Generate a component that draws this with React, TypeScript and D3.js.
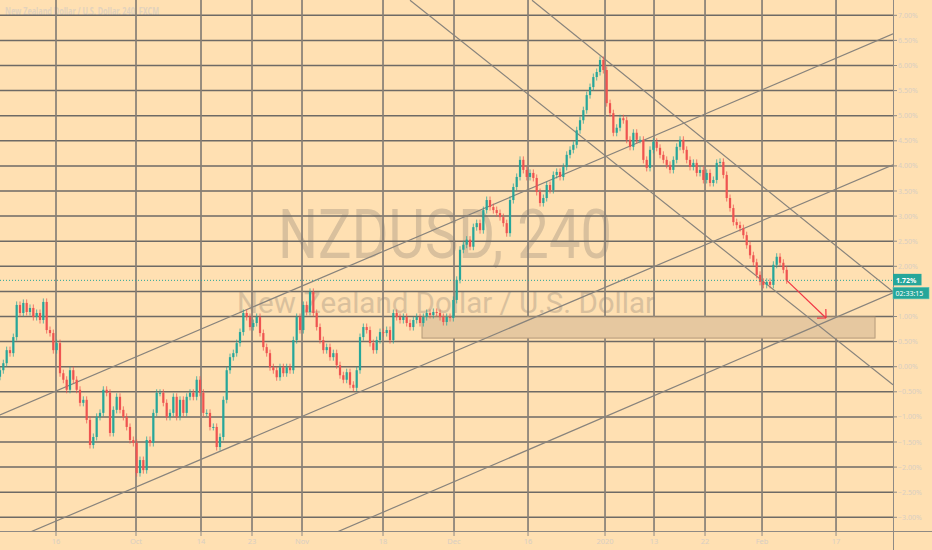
import React from "react";
import * as d3 from "d3";

const W = 932;
const H = 550;
const PLOT_W = 893;
const PLOT_H = 532;

// 4H NZDUSD closes, expressed as % change
const closes = [
  -0.07, 0.07, 0.33, 0.27, 0.59, 1.23, 1.07, 1.27, 1.09, 1.17,
  0.99, 1.07, 0.93, 1.29, 0.73, 0.67, 0.33, 0.47, -0.13, -0.26,
  -0.46, -0.07, -0.26, -0.46, -0.72, -0.66, -1.06, -1.56, -1.4, -1.0,
  -0.92, -0.46, -0.52, -1.32, -0.86, -0.6, -0.86, -1.0, -1.2, -1.46,
  -1.52, -2.12, -1.86, -2.06, -1.46, -1.52, -0.92, -0.52, -0.52, -0.72,
  -1.0, -0.92, -0.6, -1.0, -0.66, -0.92, -0.6, -0.52, -0.6, -0.26,
  -0.52, -0.92, -0.92, -1.2, -1.2, -1.6, -1.4, -0.66, -0.07, 0.19,
  0.27, 0.47, 0.69, 1.07, 0.99, 0.79, 0.87, 0.99, 0.67, 0.39,
  0.27, -0.01, -0.07, -0.21, -0.01, -0.13, -0.01, -0.07, 0.53, 0.99,
  0.73, 1.23, 1.09, 1.49, 1.07, 0.79, 0.53, 0.33, 0.39, 0.19,
  0.27, 0.03, -0.17, -0.26, -0.11, -0.36, -0.42, -0.07, 0.59, 0.79,
  0.73, 0.47, 0.33, 0.53, 0.69, 0.67, 0.73, 0.53, 1.07, 0.99,
  0.93, 0.99, 0.87, 0.79, 0.93, 0.99, 0.87, 0.99, 1.07, 1.03,
  1.09, 1.07, 0.99, 0.89, 0.99, 0.97, 1.33, 1.73, 2.33, 2.43,
  2.53, 2.39, 2.78, 2.86, 2.72, 3.12, 3.32, 3.18, 3.12, 3.06,
  2.98, 2.86, 2.66, 3.32, 3.58, 3.78, 4.12, 3.92, 3.78, 3.86,
  3.76, 3.48, 3.26, 3.36, 3.62, 3.52, 3.82, 3.88, 3.78, 3.98,
  4.22, 4.32, 4.42, 4.71, 4.91, 5.11, 5.41, 5.57, 5.77, 5.87,
  6.11, 5.91, 5.25, 5.05, 4.66, 4.76, 4.95, 4.91, 4.52, 4.38,
  4.66, 4.52, 4.52, 4.12, 3.96, 4.32, 4.48, 4.36, 4.22, 4.12,
  4.02, 3.92, 4.12, 4.38, 4.52, 4.32, 4.12, 3.98, 4.06, 3.86,
  3.92, 3.72, 3.86, 3.66, 3.72, 4.06, 4.08, 3.82, 3.36, 3.16,
  2.88, 2.82, 2.76, 2.62, 2.42, 2.22, 2.08, 1.83, 1.69, 1.63,
  1.69, 1.63, 2.03, 2.19, 2.07, 1.93, 1.72,
];
const firstOpen = -0.2;
const wickPct = 0.07;

// time axis (bar index positions and labels)
const dateTickIndex = [16.8, 40.8, 60.3, 75.6, 90.6, 114.9, 136.2, 158.4, 181.5, 196.2, 211.5, 228.6, 250.8];
const dateTickLabels = ["16", "Oct", "14", "23", "Nov", "18", "Dec", "16", "2020", "13", "22", "Feb", "17"];

// percent axis
const pctTicks = [7, 6.5, 6, 5.5, 5, 4.5, 4, 3.5, 3, 2.5, 2, 1.5, 1, 0.5, 0, -0.5, -1, -1.5, -2, -2.5, -3];

// drawn trend lines: [barIndex, pct] endpoints
const channelUp = [
  [[0, -0.96], [267.9, 6.63]],
  [[0, -3.55], [267.9, 4.02]],
  [[0, -6.18], [267.9, 1.47]],
];
const channelDown = [
  [[159.6, 7.3], [267.9, 1.49]],
  [[123, 7.3], [267.9, -0.36]],
];

// support zone
const zoneIndex = [126.6, 262.5];
const zonePct = [0.99, 0.57];

// projection arrow target
const arrowTarget = [247.8, 0.97];

const lastValueLabel = "1.72%";
const countdownLabel = "02:33:15";
const titleText = "New Zealand Dollar / U.S. Dollar, 240, FXCM";
const watermarkSymbol = "NZDUSD, 240";
const watermarkName = "New Zealand Dollar / U.S. Dollar";

const BG = "#FFE0B2";
const UP = "#26a69a";
const DOWN = "#ef5350";
const TEXT = "#d8cec2";

function fmtPct(v: number) {
  const s = Math.abs(v).toFixed(2) + "%";
  return v < 0 ? "\u2212" + s : s;
}

export default function App() {
  const x = d3.scaleLinear().domain([0, closes.length - 1]).range([0, 786.7]);
  const y = d3.scaleLinear().domain([-3, 7]).range([517.3, 15.3]);

  const candles = closes.map((c, i) => {
    const o = i === 0 ? firstOpen : closes[i - 1];
    const up = c >= o;
    const hi = Math.max(o, c) + wickPct;
    const lo = Math.min(o, c) - wickPct;
    return { i, o, c, hi, lo, up };
  });

  const last = closes[closes.length - 1];
  const yLast = y(last);

  const ax0 = x(closes.length - 1);
  const ay0 = yLast;
  const ax1 = x(arrowTarget[0]);
  const ay1 = y(arrowTarget[1]);
  const ang = Math.atan2(ay1 - ay0, ax1 - ax0);
  const headLen = 9;
  const h1 = [ax1 + headLen * Math.cos(ang + Math.PI - Math.PI / 4), ay1 + headLen * Math.sin(ang + Math.PI - Math.PI / 4)];
  const h2 = [ax1 + headLen * Math.cos(ang + Math.PI + Math.PI / 4), ay1 + headLen * Math.sin(ang + Math.PI + Math.PI / 4)];

  const line = d3
    .line<number[]>()
    .x((d) => x(d[0]))
    .y((d) => y(d[1]));

  // tick labels hidden behind the last-value / countdown badges
  const badgeTop = yLast - 6.5;
  const badgeBottom = yLast + 18.5;
  const visibleTicks = pctTicks.filter((t) => y(t) < badgeTop - 3 || y(t) > badgeBottom + 3);

  return (
    <div style={{ position: "absolute", left: 0, top: 0 }}>
      <svg width={W} height={H} style={{ display: "block" }} fontFamily="'Noto Sans', 'Open Sans', sans-serif">
        <defs>
          <clipPath id="plot">
            <rect x={0} y={0} width={PLOT_W} height={PLOT_H} />
          </clipPath>
        </defs>
        <rect x={0} y={0} width={W} height={H} fill={BG} />

        {/* watermark */}
        <text
          x={278}
          y={258}
          fontSize={68}
          fontFamily="Roboto, 'Noto Sans', sans-serif"
          fill="#d9c09d"
          textLength={334}
          lengthAdjust="spacingAndGlyphs"
        >
          {watermarkSymbol}
        </text>
        <text
          x={237}
          y={313}
          fontSize={30}
          fontFamily="Roboto, 'Noto Sans', sans-serif"
          fill="#d9c09d"
          textLength={418}
          lengthAdjust="spacingAndGlyphs"
        >
          {watermarkName}
        </text>

        {/* title */}
        <text x={5} y={14.5} fontSize={10} fontWeight="bold" fill="#e2d2bd" textLength={154} lengthAdjust="spacingAndGlyphs">
          {titleText}
        </text>

        {/* horizontal level lines */}
        {pctTicks.map((t) => (
          <line key={"h" + t} x1={0} x2={PLOT_W} y1={y(t)} y2={y(t)} stroke="#6e6a65" strokeWidth={1.5} />
        ))}
        {/* vertical date lines */}
        {dateTickIndex.map((d, k) => (
          <line key={"v" + k} x1={x(d)} x2={x(d)} y1={0} y2={PLOT_H} stroke="#877f76" strokeWidth={1.7} />
        ))}

        {/* support zone */}
        <rect
          x={x(zoneIndex[0])}
          y={y(zonePct[0])}
          width={x(zoneIndex[1]) - x(zoneIndex[0])}
          height={y(zonePct[1]) - y(zonePct[0])}
          fill="#e6c8a0"
          stroke="#b49a7a"
          strokeWidth={1}
        />

        {/* trend lines */}
        <g clipPath="url(#plot)">
          {[...channelUp, ...channelDown].map((pts, k) => (
            <path key={"t" + k} d={line(pts as number[][]) || ""} fill="none" stroke="#88837c" strokeWidth={1.2} />
          ))}
        </g>

        {/* candles */}
        <g>
          {candles.map((d) => {
            const col = d.up ? UP : DOWN;
            const yTop = y(Math.max(d.o, d.c));
            const yBot = y(Math.min(d.o, d.c));
            return (
              <g key={"c" + d.i}>
                <line x1={x(d.i)} x2={x(d.i)} y1={y(d.hi)} y2={y(d.lo)} stroke={col} strokeWidth={1} opacity={0.75} />
                <rect x={x(d.i) - 1.1} y={yTop} width={2.2} height={Math.max(1, yBot - yTop)} fill={col} />
              </g>
            );
          })}
        </g>

        {/* last price dotted line */}
        <line x1={0} x2={PLOT_W} y1={yLast} y2={yLast} stroke={UP} strokeWidth={1} strokeDasharray="1,2" />

        {/* projection arrow */}
        <g stroke="#f23645" strokeWidth={1.2} fill="none">
          <line x1={ax0} y1={ay0} x2={ax1} y2={ay1} />
          <line x1={ax1} y1={ay1} x2={h1[0]} y2={h1[1]} />
          <line x1={ax1} y1={ay1} x2={h2[0]} y2={h2[1]} />
        </g>

        {/* axes frame */}
        <line x1={0} x2={W} y1={PLOT_H - 0.5} y2={PLOT_H - 0.5} stroke="#8f8a84" strokeWidth={1} />
        <line x1={PLOT_W + 0.5} x2={PLOT_W + 0.5} y1={0} y2={H} stroke="#8f8a84" strokeWidth={1} />

        {/* right axis ticks & labels */}
        {pctTicks.map((t) => (
          <line key={"yt" + t} x1={PLOT_W} x2={PLOT_W + 4} y1={y(t)} y2={y(t)} stroke="#8f8a84" strokeWidth={1} />
        ))}
        {visibleTicks.map((t) => (
          <text key={"yl" + t} x={PLOT_W + 5} y={y(t) + 2.5} fontSize={7} fill={TEXT}>
            {fmtPct(t)}
          </text>
        ))}

        {/* bottom axis ticks & labels */}
        {dateTickIndex.map((d, k) => (
          <g key={"xl" + k}>
            <line x1={x(d)} x2={x(d)} y1={PLOT_H} y2={PLOT_H + 4} stroke="#8f8a84" strokeWidth={1} />
            <text x={x(d)} y={544} fontSize={7.5} textAnchor="middle" fill={TEXT}>
              {dateTickLabels[k]}
            </text>
          </g>
        ))}

        {/* last value badges */}
        <rect x={PLOT_W} y={yLast - 6.5} width={28.5} height={11.5} fill={UP} />
        <text x={PLOT_W + 3} y={yLast + 2.4} fontSize={7} fontWeight="bold" fill="#ffffff">
          {lastValueLabel}
        </text>
        <rect x={PLOT_W} y={yLast + 7} width={36} height={11.5} fill={UP} stroke="#5cc2b6" strokeWidth={0.6} />
        <text x={PLOT_W + 2.5} y={yLast + 15.6} fontSize={7} fill="#ffffff">
          {countdownLabel}
        </text>
      </svg>
    </div>
  );
}
